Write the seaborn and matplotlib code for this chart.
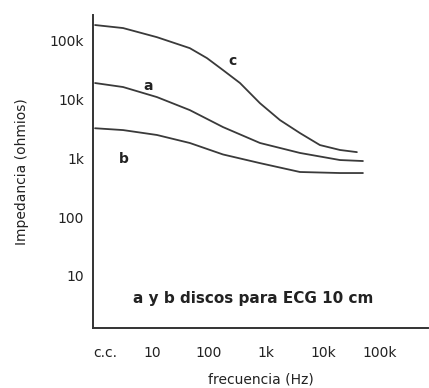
import seaborn as sns
import matplotlib.pyplot as plt
import pandas as pd

# curve c
freq_c = [1.0, 3.1, 12.2, 46, 92, 176, 350, 785, 1760, 3950, 8850, 19900, 39400]
imp_c = [180000, 160000, 112000, 73000, 49500, 31000, 18700, 8500, 4400, 2650, 1660, 1370, 1260]
# curve a
freq_a = [1.0, 3.1, 12.2, 46, 176, 785, 3950, 19900, 50300]
imp_a = [18700, 16000, 10800, 6500, 3350, 1800, 1220, 925, 890]
# curve b
freq_b = [1.0, 3.1, 12.2, 46, 176, 785, 3950, 19900, 50300]
imp_b = [3200, 2980, 2460, 1800, 1150, 820, 580, 557, 557]

x_ticks = [1.5, 10, 100, 1000, 10000, 100000]
x_labels = ['c.c.', '10', '100', '1k', '10k', '100k']
y_ticks = [10, 100, 1000, 10000, 100000]
y_labels = ['10', '100', '1k', '10k', '100k']

sns.set_style('white')
plt.rcParams['font.family'] = ['DejaVu Sans']

fig = plt.figure(figsize=(4.29, 3.88), dpi=100)
ax = fig.add_axes([0.217, 0.155, 0.78, 0.806])

col = '#3a3a3a'
for f, z in [(freq_c, imp_c), (freq_a, imp_a), (freq_b, imp_b)]:
    df = pd.DataFrame({'f': f, 'z': z})
    sns.lineplot(data=df, x='f', y='z', ax=ax, color=col, linewidth=1.3)

ax.set_xscale('log')
ax.set_yscale('log')
ax.set_xlim(0.923, 6.9e5)
ax.set_ylim(1.32, 265000)
ax.set_xticks(x_ticks)
ax.set_xticklabels(x_labels)
ax.set_yticks(y_ticks)
ax.set_yticklabels(y_labels)
ax.minorticks_off()
ax.tick_params(axis='x', length=0, pad=13, labelsize=10, colors='#222222')
ax.tick_params(axis='y', length=3, direction='out', labelsize=10, colors='#222222')

sns.despine(ax=ax)
for s in ['left', 'bottom']:
    ax.spines[s].set_color('#333333')
    ax.spines[s].set_linewidth(1.4)

ax.set_xlabel('frecuencia (Hz)', fontsize=10, color='#222222', labelpad=9)
ax.set_ylabel('Impedancia (ohmios)', fontsize=10, color='#222222', labelpad=15)

ax.text(220, 38000, 'c', fontsize=10, fontweight='bold', color='#222222')
ax.text(7.0, 14500, 'a', fontsize=10, fontweight='bold', color='#222222')
ax.text(2.6, 820, 'b', fontsize=10, fontweight='bold', color='#222222')
ax.text(590, 4.2, 'a y b discos para ECG 10 cm', fontsize=11, fontweight='bold',
        color='#222222', ha='center', va='center')

fig.savefig('out.png', dpi=100)
